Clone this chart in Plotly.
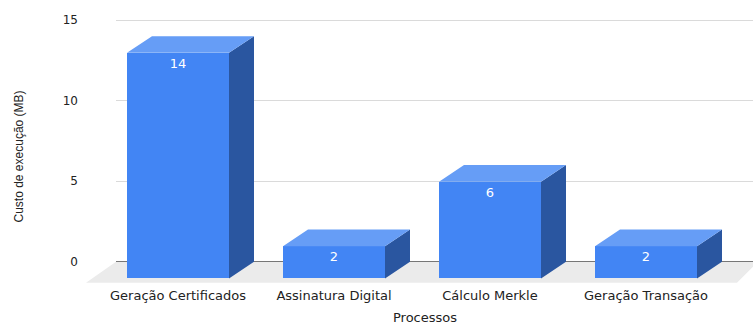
import plotly.graph_objects as go

# ---- data ----
categories = ["Geração Certificados", "Assinatura Digital", "Cálculo Merkle", "Geração Transação"]
values = [14, 2, 6, 2]
y_ticks = [0, 5, 10, 15]
y_title = "Custo de execução (MB)"
x_title = "Processos"

# ---- geometry / style constants (pixels) ----
W, H = 753, 325
PY0 = 261.7          # pixel row of value 0 on the back plane
PPU = 16.11          # pixels per value unit
PLOT_TOP, PLOT_BOT = 10, 286
BACK_LEFT = 116      # left edge of back plane (gridlines)
FRONT_LEFT = 86      # left edge of floor front
CAT0_PX = 178        # pixel centre of first front bar
PPC = 156            # pixels per category
BAR_W_PX = 102
DX_PX, DY_PX = 25, 16.7
FLOOR_BOT_PX = 282.7
FLOOR_RIGHT_BOT_PX = 737

FRONT = "#4285F4"
TOP = "#669DF6"
SIDE = "#2A56A0"
FLOOR = "#EBEBEB"
TXT = "#222222"
FONT = "DejaVu Sans, Liberation Sans, Arial, sans-serif"

dom_y = [1 - PLOT_BOT / H, 1 - PLOT_TOP / H]
yrange = [(PY0 - PLOT_BOT) / PPU, (PY0 - PLOT_TOP) / PPU]
x2range = [(FRONT_LEFT - CAT0_PX) / PPC, (W - CAT0_PX) / PPC]
dxu = DX_PX / PPC
dyu = DY_PX / PPU
bw = BAR_W_PX / PPC
xs = list(range(len(categories)))

fig = go.Figure()

# back plane subplot (gridlines + y ticks)
fig.add_trace(go.Scatter(x=[], y=[], xaxis="x", yaxis="y", showlegend=False, hoverinfo="skip"))

# side faces
sx, sy = [], []
for i, v in zip(xs, values):
    r = i + bw / 2
    sx += [r, r + dxu, r + dxu, r, r, None]
    sy += [-dyu, 0, v, v - dyu, -dyu, None]
fig.add_trace(go.Scatter(x=sx, y=sy, xaxis="x2", yaxis="y2", mode="lines", fill="toself",
                         fillcolor=SIDE, line=dict(width=0, color=SIDE),
                         showlegend=False, hoverinfo="skip"))
# top faces
tx, ty = [], []
for i, v in zip(xs, values):
    l, r = i - bw / 2, i + bw / 2
    tx += [l, r, r + dxu, l + dxu, l, None]
    ty += [v - dyu, v - dyu, v, v, v - dyu, None]
fig.add_trace(go.Scatter(x=tx, y=ty, xaxis="x2", yaxis="y2", mode="lines", fill="toself",
                         fillcolor=TOP, line=dict(width=0, color=TOP),
                         showlegend=False, hoverinfo="skip"))
# front faces
fig.add_trace(go.Bar(x=xs, y=values, base=-dyu, width=bw, xaxis="x2", yaxis="y2",
                     marker=dict(color=FRONT, line=dict(width=0)),
                     text=[str(v) for v in values], textposition="inside",
                     insidetextanchor="end", textangle=0,
                     textfont=dict(color="white", size=13, family=FONT),
                     showlegend=False, hoverinfo="skip"))

# floor (decoration)
def px(x):
    return x / W
def py(y):
    return 1 - y / H
floor_path = (f"M {px(BACK_LEFT)} {py(PY0)} L {px(W + 5)} {py(PY0)} "
              f"L {px(FLOOR_RIGHT_BOT_PX)} {py(FLOOR_BOT_PX)} L {px(FRONT_LEFT)} {py(FLOOR_BOT_PX)} Z")
fig.add_shape(type="path", path=floor_path, xref="paper", yref="paper",
              fillcolor=FLOOR, line=dict(width=0), layer="below")

fig.update_layout(
    width=W, height=H,
    margin=dict(l=0, r=0, t=0, b=0),
    paper_bgcolor="white", plot_bgcolor="rgba(0,0,0,0)",
    font=dict(family=FONT, size=12, color=TXT),
    xaxis=dict(domain=[BACK_LEFT / W, 1], range=[0, 1], visible=False, fixedrange=True),
    yaxis=dict(domain=dom_y, range=yrange, anchor="x", tickvals=y_ticks,
               ticktext=[str(t) for t in y_ticks], showgrid=True, gridcolor="#DADADA",
               gridwidth=1, zeroline=True, zerolinecolor="#777777", zerolinewidth=1,
               showline=False, ticks="", ticklabelstandoff=37,
               tickfont=dict(size=12, color=TXT, family=FONT), fixedrange=True),
    xaxis2=dict(domain=[FRONT_LEFT / W, 1], range=x2range, anchor="y2",
                tickvals=xs, ticktext=categories, showgrid=False, zeroline=False,
                showline=False, ticks="", tickfont=dict(size=13, color=TXT, family=FONT),
                fixedrange=True),
    yaxis2=dict(domain=dom_y, range=yrange, anchor="x2", visible=False, fixedrange=True),
    annotations=[
        dict(text=y_title, x=19 / W, y=1 - 156.5 / H, xref="paper", yref="paper",
             textangle=-90, showarrow=False, xanchor="center", yanchor="middle",
             font=dict(size=12, color=TXT,
                       family="Liberation Sans, Arial, sans-serif")),
        dict(text=x_title, x=425 / W, y=1 - 317 / H, xref="paper", yref="paper",
             showarrow=False, xanchor="center", yanchor="middle",
             font=dict(size=13, color=TXT, family=FONT)),
    ],
    bargap=0,
)

fig.write_html("out.html", config={"displayModeBar": False, "staticPlot": True},
               post_script="document.body.style.margin='0';document.body.style.overflow='hidden';")
